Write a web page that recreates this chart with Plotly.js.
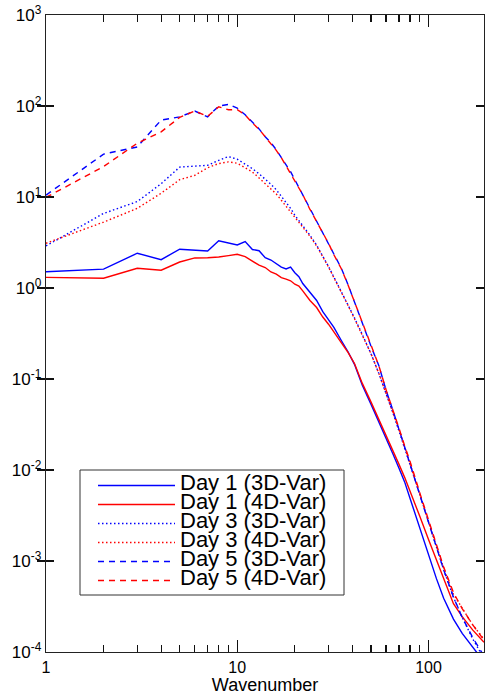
<!DOCTYPE html>
<html>
<head>
<meta charset="utf-8">
<script src="https://cdn.plot.ly/plotly-3.0.1.min.js"></script>
<style>
  html, body { margin: 0; padding: 0; background: #fff; }
  #chart { width: 485px; height: 698px; }
</style>
</head>
<body>
<div id="chart"></div>
<script>
// Spectral wavenumber (x axis)
const wavenumber = [1, 2, 3, 4, 5, 6, 7, 8, 9, 10, 11, 12, 13, 14, 15, 16, 17, 18, 19, 20, 21, 22,
  24, 26, 28, 30, 32, 35, 38, 41, 45, 50, 55, 60, 65, 70, 75, 80, 90, 100, 110, 120, 135, 150, 170, 195];

// Error spectra, one array per forecast day and assimilation scheme
const day1_3dvar = [1.51, 1.61, 2.41, 2.05, 2.67, 2.58, 2.55, 3.31, 3.15, 2.97, 3.24, 2.65, 2.57, 2.15, 2.03, 1.85, 1.70, 1.62, 1.70, 1.47, 1.33, 1.12,
  0.90, 0.73, 0.55, 0.45, 0.37, 0.265, 0.198, 0.145, 0.086, 0.053, 0.034, 0.022, 0.0152, 0.0105, 0.0074, 0.0049, 0.0023, 0.00118, 0.00064, 0.00039, 0.00023, 0.00016, 0.000113, 0.000078];
const day1_4dvar = [1.31, 1.28, 1.65, 1.57, 1.93, 2.14, 2.15, 2.19, 2.27, 2.35, 2.21, 1.98, 1.78, 1.68, 1.50, 1.42, 1.30, 1.25, 1.20, 1.10, 1.05, 0.93,
  0.73, 0.61, 0.48, 0.40, 0.33, 0.25, 0.195, 0.148, 0.090, 0.056, 0.036, 0.0246, 0.0166, 0.0116, 0.0083, 0.0059, 0.0031, 0.00172, 0.00103, 0.00064, 0.00034, 0.000245, 0.000175, 0.000128];
const day3_3dvar = [2.90, 6.6, 8.9, 14.0, 21.3, 22.0, 22.3, 25.3, 27.8, 26.0, 23.0, 20.5, 18.0, 15.8, 13.8, 12.0, 10.2, 8.9, 7.5, 6.3, 5.5, 4.9,
  3.8, 2.95, 2.25, 1.72, 1.32, 0.92, 0.65, 0.47, 0.31, 0.19, 0.115, 0.070, 0.043, 0.027, 0.0175, 0.0118, 0.0054, 0.0027, 0.0014, 0.0008, 0.0004, 0.00024, 0.00014, 0.000085];
const day3_4dvar = [3.10, 5.3, 7.5, 11.0, 15.5, 17.3, 21.0, 23.3, 24.3, 23.5, 21.0, 18.8, 16.2, 14.0, 12.3, 10.8, 9.2, 7.9, 6.9, 6.0, 5.3, 4.7,
  3.7, 2.9, 2.22, 1.70, 1.30, 0.91, 0.64, 0.46, 0.30, 0.19, 0.115, 0.070, 0.044, 0.028, 0.018, 0.012, 0.0054, 0.0027, 0.00142, 0.00084, 0.00043, 0.00030, 0.00020, 0.000138];
const day5_3dvar = [10.5, 29.6, 35.5, 70, 76, 88, 76, 100, 104, 95, 80, 66, 56, 46, 39.5, 33, 27.5, 22.5, 19, 15.5, 13, 10.8,
  7.4, 5.5, 4.1, 3.15, 2.35, 1.65, 1.08, 0.70, 0.42, 0.23, 0.14, 0.075, 0.046, 0.028, 0.018, 0.0122, 0.0054, 0.0027, 0.0014, 0.0008, 0.0004, 0.00024, 0.000145, 0.00009];
const day5_4dvar = [9.9, 21.6, 39, 52, 75, 88, 77, 98, 91, 91, 80, 65, 55.5, 46, 39, 32.5, 27, 22, 18.5, 15.2, 12.8, 10.6,
  7.3, 5.4, 4.05, 3.1, 2.32, 1.63, 1.07, 0.70, 0.42, 0.23, 0.14, 0.076, 0.047, 0.029, 0.0185, 0.0125, 0.0056, 0.0028, 0.00146, 0.00086, 0.00045, 0.00030, 0.00020, 0.000135];

const seriesNames = ['Day 1 (3D-Var)', 'Day 1 (4D-Var)', 'Day 3 (3D-Var)', 'Day 3 (4D-Var)', 'Day 5 (3D-Var)', 'Day 5 (4D-Var)'];
const seriesValues = [day1_3dvar, day1_4dvar, day3_3dvar, day3_4dvar, day5_3dvar, day5_4dvar];

// Tick labels
const yTickVals = [1e-4, 1e-3, 1e-2, 1e-1, 1, 10, 100, 1000];
const yTickText = ['10<sup>-4</sup>', '10<sup>-3</sup>', '10<sup>-2</sup>', '10<sup>-1</sup>', '10<sup>0</sup>', '10<sup>1</sup>', '10<sup>2</sup>', '10<sup>3</sup>'];
const xTickVals = [1, 10, 100];
const xTickText = ['1', '10', '100'];
const xMinorVals = [2, 3, 4, 5, 6, 7, 8, 9, 20, 30, 40, 50, 60, 70, 80, 90];

const FONT = 'Liberation Sans, Arial, Helvetica, sans-serif';
const BLUE = 'rgb(0,0,255)';
const RED = 'rgb(255,0,0)';
const TICK = '#111';
const styles = [
  { color: BLUE, dash: 'solid' },
  { color: RED, dash: 'solid' },
  { color: BLUE, dash: '1.5px,2.5px' },
  { color: RED, dash: '1.5px,2.5px' },
  { color: BLUE, dash: '6px,5px' },
  { color: RED, dash: '6px,5px' }
];

const X_RANGE = [0, Math.log10(195)];

// The last series is drawn on the overlay x axis (same log range) so that
// axis, which carries the short intermediate ticks, is rendered.
const traces = seriesNames.map((name, i) => ({
  type: 'scatter',
  mode: 'lines',
  x: wavenumber,
  y: seriesValues[i],
  xaxis: i === seriesNames.length - 1 ? 'x2' : 'x',
  yaxis: 'y',
  name: '<span style="font-size:22px">' + name + '</span>',
  line: { color: styles[i].color, width: 1.4, dash: styles[i].dash },
  hoverinfo: 'x+y'
}));

// Plot-area geometry in pixels, used to place the legend frame
const W = 485, H = 698, M = { l: 46, r: 1, t: 15, b: 46 };
const plotW = W - M.l - M.r, plotH = H - M.t - M.b;
const px2x = px => (px - M.l) / plotW;
const px2y = py => (H - M.b - py) / plotH;

const layout = {
  width: W,
  height: H,
  margin: M,
  paper_bgcolor: '#ffffff',
  plot_bgcolor: '#ffffff',
  font: { family: FONT, color: '#000', size: 16 },
  showlegend: true,
  legend: {
    x: px2x(93), y: px2y(471), xanchor: 'left', yanchor: 'top',
    bgcolor: 'rgba(0,0,0,0)', borderwidth: 0,
    font: { family: FONT, size: 12.3, color: '#000' },
    itemwidth: 77,
    tracegroupgap: 0
  },
  shapes: [{
    type: 'rect', xref: 'paper', yref: 'paper', layer: 'below',
    x0: px2x(80), x1: px2x(344), y0: px2y(595), y1: px2y(470),
    line: { color: '#333', width: 1 }, fillcolor: '#ffffff'
  }],
  xaxis: {
    type: 'log',
    range: X_RANGE,
    tickmode: 'array', tickvals: xTickVals, ticktext: xTickText,
    ticks: 'inside', ticklen: 12, tickwidth: 1.3, tickcolor: TICK,
    showline: true, linecolor: '#222', linewidth: 1.3, mirror: 'allticks',
    showgrid: false, zeroline: false,
    tickfont: { family: FONT, size: 16, color: '#000' },
    title: { text: 'Wavenumber', font: { family: FONT, size: 18, color: '#000' }, standoff: 2 }
  },
  xaxis2: {
    type: 'log',
    overlaying: 'x', anchor: 'y', side: 'bottom',
    range: X_RANGE,
    tickmode: 'array', tickvals: xMinorVals,
    showticklabels: false,
    ticks: 'inside', ticklen: 7, tickwidth: 1.3, tickcolor: TICK,
    showline: false, mirror: 'allticks',
    showgrid: false, zeroline: false
  },
  yaxis: {
    type: 'log',
    range: [-4, 3],
    tickmode: 'array', tickvals: yTickVals, ticktext: yTickText,
    ticks: 'inside', ticklen: 8, tickwidth: 1.3, tickcolor: TICK,
    showline: true, linecolor: '#222', linewidth: 1.3, mirror: 'allticks',
    showgrid: false, zeroline: false,
    tickfont: { family: FONT, size: 17, color: '#000' }
  }
};

Plotly.newPlot('chart', traces, layout, { displayModeBar: false, staticPlot: true });
</script>
</body>
</html>
